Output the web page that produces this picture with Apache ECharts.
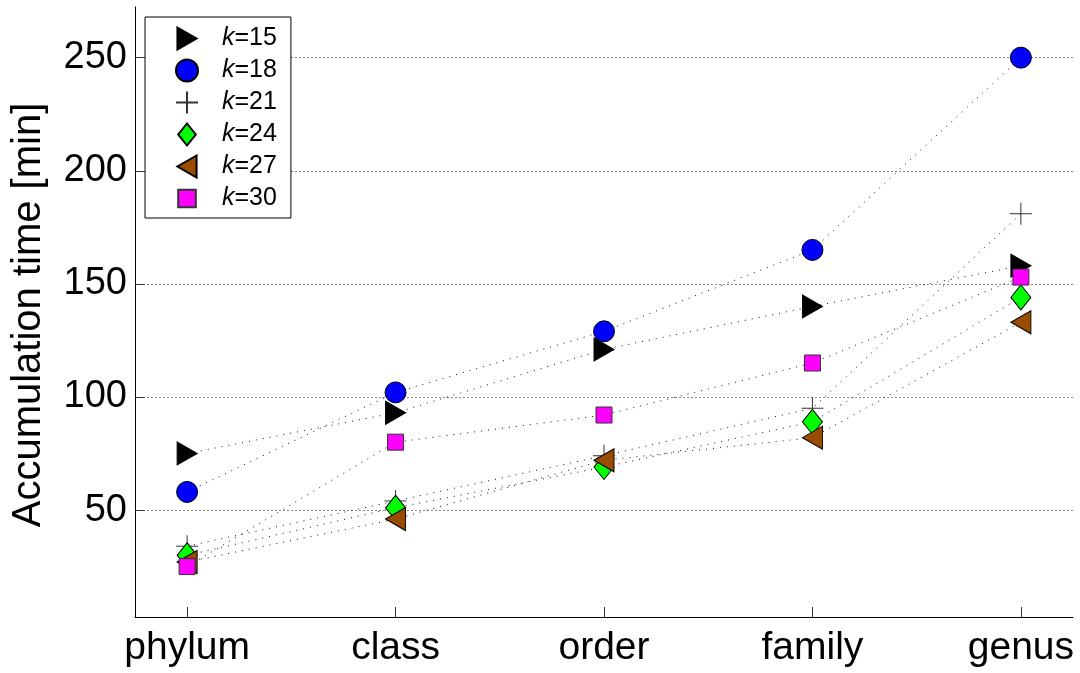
<!DOCTYPE html>
<html>
<head>
<meta charset="utf-8">
<script src="https://cdn.jsdelivr.net/npm/echarts@6/dist/echarts.min.js"></script>
<style>
  html, body { margin: 0; padding: 0; background: #fff; }
  #chart { width: 1080px; height: 673px; }
</style>
</head>
<body>
<div id="chart"></div>
<script>
// Taxonomic levels along the x axis
const categories = ['phylum', 'class', 'order', 'family', 'genus'];

// Accumulation time in minutes for each k-mer length
const k15 = [75, 93, 121, 140, 158];
const k18 = [58, 102, 129, 165, 250];
const k21 = [34, 54, 74, 95, 181];
const k24 = [30, 51, 69, 89, 144];
const k27 = [27, 46, 72, 82, 133];
const k30 = [25, 80, 92, 115, 153];

const yTicks = [50, 100, 150, 200, 250];
const xTicks = [1, 2, 3, 4, 5];

const FONT = "'Liberation Sans', Arial, Helvetica, sans-serif";

// Marker shapes
const TRI_RIGHT = 'path://M0,0L20,11.5L0,23Z';
const TRI_LEFT = 'path://M20,0L0,11.5L20,23Z';
const PLUS = 'path://M11,0L11,22M0,11L22,11';
const DIAMOND = 'path://M10,0L20,12.5L10,25L0,12.5Z';
const SQUARE = 'path://M0,0M2,2L18,2L18,18L2,18ZM20,20';

const seriesDefs = [
  { name: 'k=15', data: k15, symbol: TRI_RIGHT, size: [20, 23], fill: '#000000', border: '#000000', bw: 1 },
  { name: 'k=18', data: k18, symbol: 'circle', size: 21, fill: '#0000ff', border: '#000000', bw: 1 },
  { name: 'k=21', data: k21, symbol: PLUS, size: 22, fill: 'rgba(0,0,0,0)', border: '#333333', bw: 1 },
  { name: 'k=24', data: k24, symbol: DIAMOND, size: [20, 25], fill: '#00ff00', border: '#000000', bw: 1 },
  { name: 'k=27', data: k27, symbol: TRI_LEFT, size: [20, 23], fill: '#994c00', border: '#000000', bw: 1 },
  { name: 'k=30', data: k30, symbol: SQUARE, size: 20, fill: '#ff00ff', border: '#333333', bw: 1 }
];

const toPoints = arr => arr.map((v, i) => [xTicks[i], v]);

const series = [];
// dotted connecting lines (drawn underneath the markers)
seriesDefs.forEach(d => {
  series.push({
    type: 'line',
    name: d.name + ' line',
    data: toPoints(d.data),
    symbol: 'none',
    silent: true,
    z: 1,
    lineStyle: { color: '#111', width: 1, type: [1, 6] }
  });
});
// markers
seriesDefs.forEach((d, i) => {
  series.push({
    type: 'scatter',
    name: d.name,
    data: toPoints(d.data),
    symbol: d.symbol,
    symbolSize: d.size,
    z: 3 + i,
    itemStyle: { color: d.fill, borderColor: d.border, borderWidth: d.bw, opacity: 1 }
  });
});

const chart = echarts.init(document.getElementById('chart'), null, { renderer: 'canvas' });

chart.setOption({
  animation: false,
  backgroundColor: '#ffffff',
  grid: { left: 135, right: 7, top: 7, bottom: 56, containLabel: false },
  legend: {
    data: seriesDefs.map(d => d.name),
    orient: 'vertical',
    left: 145,
    top: 17,
    padding: [9, 14, 7, 30],
    itemWidth: 24,
    itemHeight: 22,
    itemGap: 7,
    borderColor: '#000',
    borderWidth: 1,
    backgroundColor: '#fff',
    selectedMode: false,
    formatter: name => '{s|}{i|k}{n|' + name.slice(1) + '}',
    textStyle: {
      fontFamily: FONT,
      fontSize: 25,
      lineHeight: 22,
      color: '#000',
      rich: {
        s: { width: 18, lineHeight: 22 },
        i: { fontStyle: 'italic', fontFamily: FONT, fontSize: 25, color: '#000', lineHeight: 22 },
        n: { fontFamily: FONT, fontSize: 25, color: '#000', lineHeight: 22 }
      }
    }
  },
  xAxis: {
    type: 'value',
    min: 0.75,
    max: 5.25,
    axisLine: { show: true, lineStyle: { color: '#000', width: 1 } },
    axisTick: { show: true, inside: true, length: 10, customValues: xTicks, lineStyle: { color: '#333' } },
    axisLabel: {
      customValues: xTicks,
      formatter: v => categories[Math.round(v) - 1] || '',
      fontFamily: FONT,
      fontSize: 39,
      color: '#000',
      margin: 12
    },
    splitLine: { show: false }
  },
  yAxis: {
    type: 'value',
    min: 2.7,
    max: 272.4,
    name: 'Accumulation time [min]',
    nameLocation: 'middle',
    nameGap: 86,
    nameTextStyle: { fontFamily: FONT, fontSize: 40, color: '#000', padding: [0, 0, 0, -6] },
    axisLine: { show: true, lineStyle: { color: '#000', width: 1 } },
    axisTick: { show: true, inside: true, length: 10, customValues: yTicks, lineStyle: { color: '#333' } },
    axisLabel: {
      customValues: yTicks,
      fontFamily: FONT,
      fontSize: 38,
      color: '#000',
      margin: 8
    },
    splitLine: { show: true, lineStyle: { color: '#8a8a8a', width: 1, type: [2, 2] } }
  },
  series: series
});
</script>
</body>
</html>
